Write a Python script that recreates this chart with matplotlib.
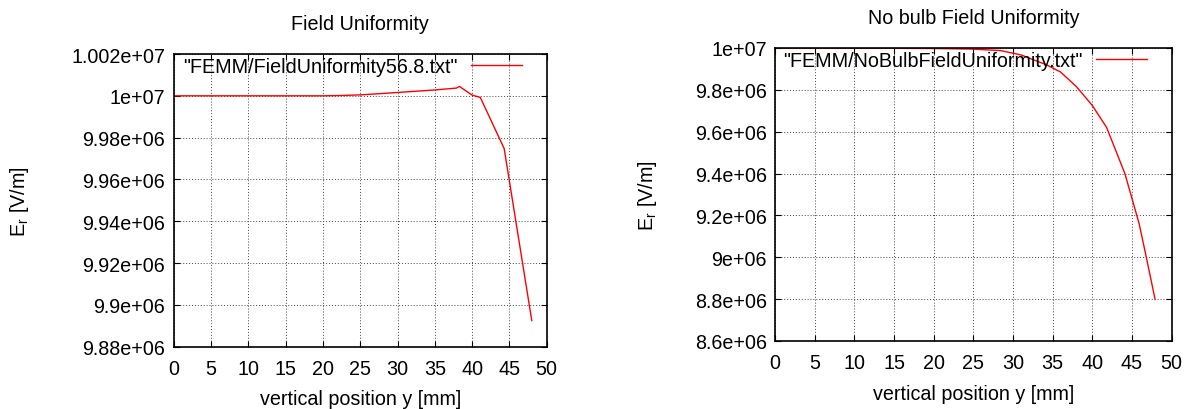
import matplotlib
matplotlib.use("Agg")
import matplotlib.pyplot as plt
from matplotlib.ticker import FuncFormatter

plt.rcParams['font.family'] = ['Liberation Sans', 'DejaVu Sans']
plt.rcParams['mathtext.default'] = 'regular'

# Field profile with the bulb present
bulb_y = [0, 5, 10, 15, 20, 22.5, 25, 27.5, 30, 32.5, 35, 37.9, 38.3, 40.0, 41.1, 44.3, 48.0]
bulb_E = [1.0e7, 1.0e7, 1.0e7, 1.0e7, 1.0e7, 10000150, 10000450, 10001000, 10001600,
          10002200, 10002800, 10003700, 10004500, 10000340, 9999230, 9974750, 9892500]

# Field profile without the bulb
nobulb_y = [0, 5, 10, 15, 20, 24.6, 28.4, 31.0, 34.2, 36.0, 38.0, 40.0, 41.8, 44.1, 45.9, 46.8, 47.9]
nobulb_E = [9999700, 9999500, 9999100, 9998500, 9997500, 9995000, 9988000, 9967000, 9920000,
            9885000, 9815000, 9725000, 9620000, 9400000, 9160000, 9000000, 8800000]

x_ticks = [0, 5, 10, 15, 20, 25, 30, 35, 40, 45, 50]
bulb_yticks = [9.88e6, 9.90e6, 9.92e6, 9.94e6, 9.96e6, 9.98e6, 1.0e7, 1.002e7]
nobulb_yticks = [8.6e6, 8.8e6, 9.0e6, 9.2e6, 9.4e6, 9.6e6, 9.8e6, 1.0e7]

FS = 14.2
W, H = 1188, 410
fig = plt.figure(figsize=(W / 100, H / 100), dpi=100)

def make_axes(px_left, px_right, px_top, px_bottom):
    return fig.add_axes([px_left / W, 1 - px_bottom / H,
                         (px_right - px_left) / W, (px_bottom - px_top) / H])

gfmt = FuncFormatter(lambda v, p: '%g' % v)

def style(ax, x, E, label, yticks, title, width_px, ylabelpad):
    ax.plot(x, E, color='red', lw=1.0, label=label)
    ax.set_xlim(x_ticks[0], x_ticks[-1])
    ax.set_ylim(yticks[0], yticks[-1])
    ax.set_xticks(x_ticks)
    ax.set_yticks(yticks)
    ax.yaxis.set_major_formatter(gfmt)
    ax.tick_params(direction='in', top=True, right=True, length=4, width=0.8,
                   labelsize=FS, pad=6)
    ax.tick_params(axis='x', pad=9)
    ax.grid(True, color='#444444', lw=0.7, linestyle=(0, (1, 2)))
    for s in ax.spines.values():
        s.set_linewidth(1.2)
    ax.set_xlabel('vertical position y [mm]', fontsize=FS, labelpad=8)
    ax.set_ylabel(r'E$_\mathregular{r}$ [V/m]', fontsize=FS, labelpad=ylabelpad)
    ax.set_title(title, fontsize=FS, pad=18)
    ax.legend(loc='upper right', bbox_to_anchor=(1 - 22 / width_px, 1.0),
              frameon=False, markerfirst=False, fontsize=FS,
              handlelength=2.55, handletextpad=0.7, borderaxespad=0.0,
              borderpad=0.15)

ax1 = make_axes(173.7, 546.7, 55.0, 347.7)
style(ax1, bulb_y, bulb_E, '"FEMM/FieldUniformity56.8.txt"', bulb_yticks,
      'Field Uniformity', 373.0, 29)

ax2 = make_axes(775.0, 1171.7, 49.0, 342.0)
style(ax2, nobulb_y, nobulb_E, '"FEMM/NoBulbFieldUniformity.txt"', nobulb_yticks,
      'No bulb Field Uniformity', 396.7, 26)

fig.savefig('out.png', dpi=100)
